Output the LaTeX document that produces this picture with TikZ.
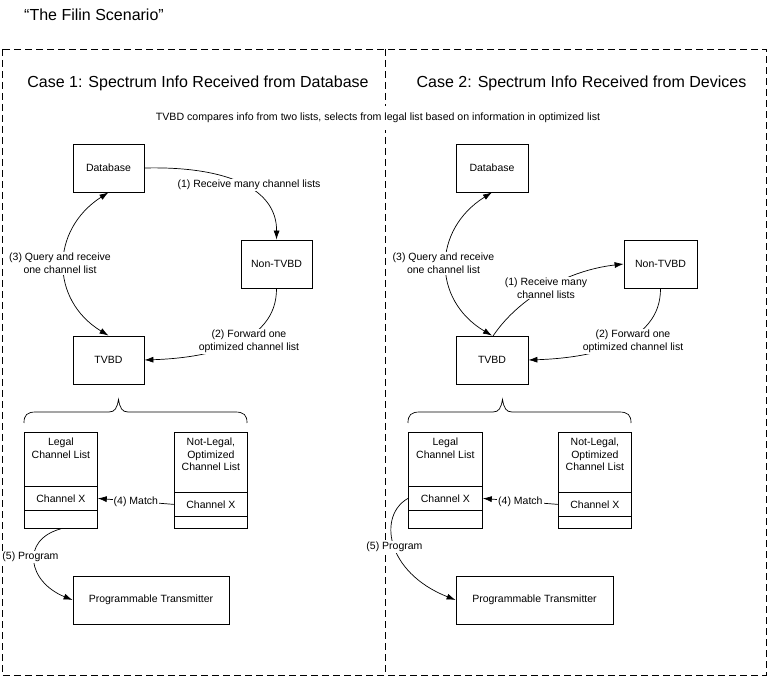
\documentclass[tikz,border=0pt]{standalone}
\usepackage{fontspec}
\setmainfont{Liberation Sans}
\usetikzlibrary{arrows.meta}
\begin{document}
\begin{tikzpicture}[x=1pt,y=-1pt,
  lbl/.style={font=\fontsize{10.5}{12.8}\selectfont, inner sep=1pt, align=center},
  wlbl/.style={lbl, fill=white},
  box/.style={draw, line width=0.8pt, font=\fontsize{10.5}{12.8}\selectfont, inner sep=0pt, align=center},
  conn/.style={line width=0.7pt, -{Latex[length=9pt,width=6pt]}},
  dconn/.style={line width=0.7pt, {Latex[length=9pt,width=6pt]}-{Latex[length=9pt,width=6pt]}},
  frame/.style={dash pattern=on 7pt off 4pt, line width=0.8pt},
  bigt/.style={font=\fontsize{16}{19}\selectfont, inner sep=0pt}]
\useasboundingbox (0,0) rectangle (769,676);

% frame
\draw[frame] (2,49) rectangle (766,675);
\draw[frame] (385,49) -- (385,675);

% titles
\node[bigt] (title) at (94,15) {“The Filin Scenario”};
\node[bigt] (case1) at (198,83) {Case 1: Spectrum Info Received from Database};
\node[bigt] (case2) at (581.5,83) {Case 2: Spectrum Info Received from Devices};
\node[font=\fontsize{10.6}{12}\selectfont, fill=white, inner xsep=2pt, inner ysep=7pt] (cmp) at (378,118)
  {TVBD compares info from two lists, selects from legal list based on information in optimized list};

% ---------- Case 1 ----------
\node[box, minimum width=71pt, minimum height=48pt] (db1) at (108.5,168) {Database};
\node[box, minimum width=71pt, minimum height=48pt] (nt1) at (276.5,264) {Non-TVBD};
\node[box, minimum width=71pt, minimum height=48pt] (tv1) at (108.5,360) {TVBD};

\draw[conn] (db1.east) .. controls (230,166) and (277,190) .. (nt1.north);
\draw[conn] (nt1.south) .. controls (277,345) and (205,358) .. (tv1.east);
\draw[dconn] (db1.south) .. controls (50,230) and (50,300) .. (tv1.north);

\node[wlbl] (l1a) at (249,185) {(1) Receive many channel lists};
\node[wlbl] (l2a) at (249,341.5) {(2) Forward one\\optimized channel list};
\node[wlbl] (l3a) at (60,263.5) {(3) Query and receive\\one channel list};

% brace 1
\draw[line width=0.7pt] (24,423) .. controls (24,415) and (27,412) .. (36,412) -- (109,412)
  .. controls (115,412) and (117,408) .. (118.5,399.5)
  .. controls (120,408) and (122,412) .. (128,412) -- (235,412)
  .. controls (244,412) and (247,415) .. (247,423);

% legal list 1
\node[box, anchor=north west, minimum width=73pt, minimum height=54pt] (lg1) at (24,432) {};
\node[lbl, anchor=north] (lg1t) at ([yshift=-4.5pt]lg1.north) {Legal\\Channel List};
\node[box, anchor=north west, minimum width=73pt, minimum height=24pt] (cx1) at (24,486) {Channel X};
\node[box, anchor=north west, minimum width=73pt, minimum height=18pt] (lb1) at (24,510) {};

% not-legal list 1
\node[box, anchor=north west, minimum width=73pt, minimum height=60pt] (ng1) at (174,432) {};
\node[lbl, anchor=north] (ng1t) at ([yshift=-4.5pt]ng1.north) {Not-Legal,\\Optimized\\Channel List};
\node[box, anchor=north west, minimum width=73pt, minimum height=24pt] (ncx1) at (174,492) {Channel X};
\node[box, anchor=north west, minimum width=73pt, minimum height=12pt] (nb1) at (174,516) {};

\draw[conn] (ncx1.west) -- node[wlbl] (m1) {(4) Match} (cx1.east);

\node[box, minimum width=156pt, minimum height=48pt] (tx1) at (151,600) {Programmable Transmitter};
\draw[conn] (lb1.south) .. controls (20,540) and (28,582) .. (tx1.west);
\node[wlbl] (p1) at (30.5,557) {(5) Program};

% ---------- Case 2 ----------
\node[box, minimum width=72pt, minimum height=48pt] (db2) at (492,168) {Database};
\node[box, minimum width=73pt, minimum height=48pt] (nt2) at (660.5,264) {Non-TVBD};
\node[box, minimum width=72pt, minimum height=48pt] (tv2) at (492,360) {TVBD};

\coordinate (tv2a) at (493,336);
\draw[conn] (tv2a) .. controls (520,296) and (570,270) .. (nt2.west);
\draw[conn] (nt2.south) .. controls (661,345) and (589,358) .. (tv2.east);
\draw[dconn] (db2.south) .. controls (432,230) and (432,300) .. (tv2.north);

\node[wlbl] (l1b) at (546,288) {(1) Receive many\\channel lists};
\node[wlbl] (l2b) at (633,341.5) {(2) Forward one\\optimized channel list};
\node[wlbl] (l3b) at (443.5,263.5) {(3) Query and receive\\one channel list};

% brace 2
\draw[line width=0.7pt] (408,423) .. controls (408,415) and (411,412) .. (420,412) -- (493,412)
  .. controls (499,412) and (501,408) .. (502.5,399.5)
  .. controls (504,408) and (506,412) .. (512,412) -- (619,412)
  .. controls (628,412) and (631,415) .. (631,423);

% legal list 2
\node[box, anchor=north west, minimum width=74pt, minimum height=54pt] (lg2) at (408,432) {};
\node[lbl, anchor=north] (lg2t) at ([yshift=-4.5pt]lg2.north) {Legal\\Channel List};
\node[box, anchor=north west, minimum width=74pt, minimum height=24pt] (cx2) at (408,486) {Channel X};
\node[box, anchor=north west, minimum width=74pt, minimum height=18pt] (lb2) at (408,510) {};

% not-legal list 2
\node[box, anchor=north west, minimum width=73pt, minimum height=60pt] (ng2) at (558,432) {};
\node[lbl, anchor=north] (ng2t) at ([yshift=-4.5pt]ng2.north) {Not-Legal,\\Optimized\\Channel List};
\node[box, anchor=north west, minimum width=73pt, minimum height=24pt] (ncx2) at (558,492) {Channel X};
\node[box, anchor=north west, minimum width=73pt, minimum height=12pt] (nb2) at (558,516) {};

\draw[conn] (ncx2.west) -- node[wlbl] (m2) {(4) Match} (cx2.east);

\node[box, minimum width=157pt, minimum height=48pt] (tx2) at (534.5,600) {Programmable Transmitter};
\draw[conn] (cx2.west) .. controls (378,515) and (385,572) .. (tx2.west);
\node[wlbl] (p2) at (394.5,547) {(5) Program};
\end{tikzpicture}
\end{document}
